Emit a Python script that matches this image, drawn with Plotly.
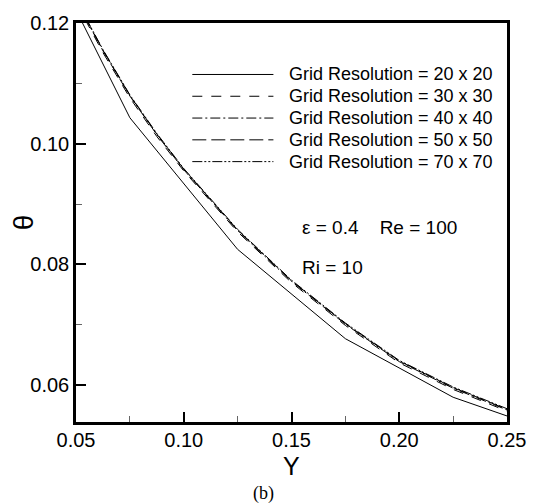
import plotly.graph_objects as go

# 20 x 20 grid (cell-centre values)
x20 = [0.025, 0.075, 0.125, 0.175, 0.225, 0.275]
t20 = [0.1400, 0.1043, 0.0825, 0.0677, 0.0580, 0.0518]

# finer grids
xf = [0.05, 0.0625, 0.075, 0.0875, 0.10, 0.125, 0.15, 0.175, 0.20, 0.225, 0.25]
t30 = [0.1234, 0.1151, 0.1076, 0.1012, 0.0955, 0.0854, 0.0770, 0.0699, 0.0637, 0.0593, 0.0557]
t40 = [0.1237, 0.1154, 0.1079, 0.1015, 0.0957, 0.0856, 0.0772, 0.0701, 0.0639, 0.0595, 0.0559]
t50 = [0.1238, 0.1155, 0.1080, 0.1016, 0.0958, 0.0857, 0.0773, 0.0702, 0.0640, 0.0596, 0.0560]
t70 = [0.1239, 0.1156, 0.1081, 0.1017, 0.0959, 0.0858, 0.0774, 0.0703, 0.0641, 0.0597, 0.0561]

names = ["Grid Resolution = 20 x 20", "Grid Resolution = 30 x 30",
         "Grid Resolution = 40 x 40", "Grid Resolution = 50 x 50",
         "Grid Resolution = 70 x 70"]
dashes = ["solid", "10px,9px", "10px,3px,2px,3px", "14px,5px", "10px,2px,2px,2px,2px,2px"]

xticks = [0.05, 0.10, 0.15, 0.20, 0.25]
xticklabels = ["0.05", "0.10", "0.15", "0.20", "0.25"]
yticks = [0.06, 0.08, 0.10, 0.12]
yticklabels = ["0.06", "0.08", "0.10", "0.12"]

FONT = "Liberation Sans, Arial, sans-serif"

# plot-area geometry in pixels (for paper-coordinate placement of text)
L, R, T, B = 76, 517, 19, 422
W, H = R - L, B - T


def px(xp):
    return (xp - L) / W


def py(yp):
    return (B - yp) / H


fig = go.Figure()
series = [(x20, t20), (xf, t30), (xf, t40), (xf, t50), (xf, t70)]
for (xs, ys), nm, dash in zip(series, names, dashes):
    fig.add_trace(go.Scatter(x=xs, y=ys, mode="lines", name=nm, showlegend=False,
                             line=dict(color="black", width=1, dash=dash)))

axis_common = dict(showgrid=False, zeroline=False, showline=True, linecolor="black",
                   linewidth=2.5, mirror=True, ticks="inside", ticklen=10, tickwidth=2,
                   tickcolor="black", tickfont=dict(family=FONT, size=20, color="black"))

fig.update_xaxes(range=[0.05, 0.25], tickvals=xticks, ticktext=xticklabels,
                 ticklabelstandoff=-2,
                 minor=dict(ticks="inside", ticklen=6, tickwidth=1, tickcolor="#666",
                            tickvals=[0.075, 0.125, 0.175, 0.225]),
                 **axis_common)
fig.update_yaxes(range=[0.0539, 0.12], tickvals=yticks, ticktext=yticklabels,
                 minor=dict(ticks="inside", ticklen=6, tickwidth=1, tickcolor="#666",
                            tickvals=[0.07, 0.09, 0.11]),
                 **axis_common)

# axis titles placed as in the reference
fig.add_annotation(xref="paper", yref="paper", x=px(22), y=py(220),
                   xanchor="center", yanchor="middle", showarrow=False, textangle=-90,
                   text="θ", font=dict(family=FONT, size=28, color="black"))
fig.add_annotation(xref="paper", yref="paper", x=px(296), y=py(466),
                   xanchor="center", yanchor="middle", showarrow=False,
                   text="Y", font=dict(family=FONT, size=25, color="black"))

# hand-drawn legend (long sample lines as in the reference)
rows_y = [71, 93, 115, 137, 159]
for nm, dash, ry in zip(names, dashes, rows_y):
    fig.add_shape(type="line", xref="paper", yref="paper",
                  x0=px(195), x1=px(278), y0=py(ry), y1=py(ry),
                  line=dict(color="black", width=1, dash=dash))
    fig.add_annotation(xref="paper", yref="paper", x=px(292), y=py(ry),
                       xanchor="left", yanchor="middle", showarrow=False, text=nm,
                       font=dict(family=FONT, size=18, color="black"))

fig.add_annotation(xref="paper", yref="paper", x=px(305), y=py(226),
                   xanchor="left", yanchor="middle", showarrow=False,
                   text="ε = 0.4    Re = 100", font=dict(family=FONT, size=19, color="black"))
fig.add_annotation(xref="paper", yref="paper", x=px(305), y=py(266),
                   xanchor="left", yanchor="middle", showarrow=False,
                   text="Ri = 10", font=dict(family=FONT, size=19, color="black"))
fig.add_annotation(xref="paper", yref="paper", x=px(268), y=py(494),
                   xanchor="center", yanchor="middle", showarrow=False,
                   text="(b)", font=dict(family="Liberation Serif, Times New Roman, serif",
                                         size=18, color="black"))

fig.update_layout(
    width=538, height=504,
    margin=dict(l=L, r=538 - R, t=T, b=504 - B),
    paper_bgcolor="white", plot_bgcolor="white",
    showlegend=False,
)

fig.write_html("out.html")
